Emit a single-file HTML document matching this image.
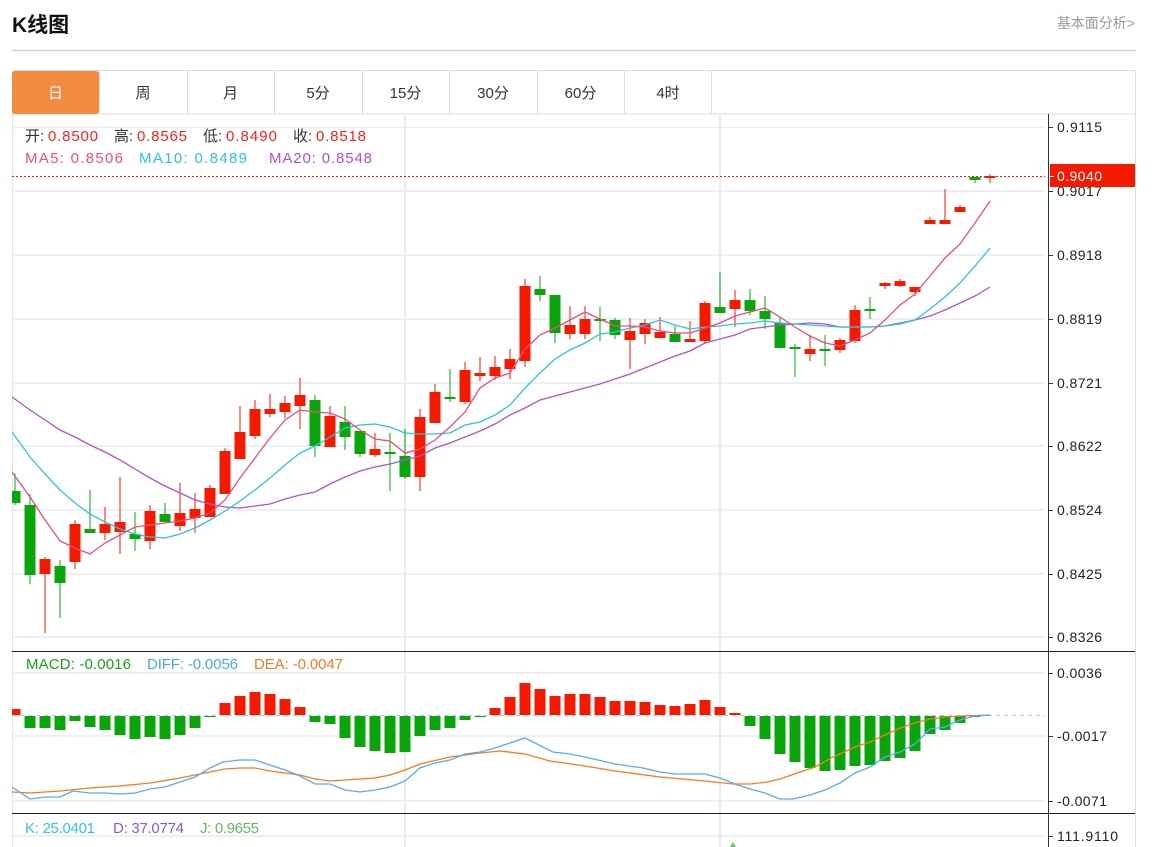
<!DOCTYPE html>
<html><head><meta charset="utf-8"><style>
html,body{margin:0;padding:0;background:#fff;width:1162px;height:847px;overflow:hidden}
svg{display:block}
</style></head><body>
<svg width="1162" height="847" viewBox="0 0 1162 847" xmlns="http://www.w3.org/2000/svg" font-family="'Liberation Sans','Noto Sans CJK SC',sans-serif">
<defs><clipPath id="pc"><rect x="12" y="114" width="1034" height="733"/></clipPath></defs>
<text x="12" y="32" font-size="21" font-weight="bold" fill="#111">K线图</text>
<text x="1135" y="28" text-anchor="end" font-size="14" fill="#999">基本面分析&gt;</text>
<line x1="12" y1="50.5" x2="1136" y2="50.5" stroke="#d2d2d2" stroke-width="1.4"/>
<rect x="12.5" y="70.5" width="1123" height="43.5" fill="#fff" stroke="#dcdcdc"/>
<rect x="12" y="71" width="87" height="43" rx="3" fill="#f18b40"/>
<g stroke="#dcdcdc"><line x1="99.5" y1="70" x2="99.5" y2="114"/><line x1="187.5" y1="70" x2="187.5" y2="114"/><line x1="274.5" y1="70" x2="274.5" y2="114"/><line x1="362.5" y1="70" x2="362.5" y2="114"/><line x1="449.5" y1="70" x2="449.5" y2="114"/><line x1="537.5" y1="70" x2="537.5" y2="114"/><line x1="624.5" y1="70" x2="624.5" y2="114"/><line x1="711.5" y1="70" x2="711.5" y2="114"/></g>
<g font-size="15" text-anchor="middle" fill="#333">
<text x="55.5" y="98" fill="#fff">日</text><text x="143" y="98">周</text><text x="230.5" y="98">月</text><text x="318" y="98">5分</text><text x="405.5" y="98">15分</text><text x="493" y="98">30分</text><text x="580.5" y="98">60分</text><text x="668" y="98">4时</text>
</g>
<line x1="1135.5" y1="70" x2="1135.5" y2="847" stroke="#dcdcdc"/>
<line x1="12.5" y1="114" x2="12.5" y2="847" stroke="#e0e6ea"/>
<g stroke="#e6ecf1" stroke-width="1.6">
<line x1="12" y1="127.5" x2="1045" y2="127.5"/><line x1="12" y1="191" x2="1045" y2="191"/><line x1="12" y1="255" x2="1045" y2="255"/><line x1="12" y1="319" x2="1045" y2="319"/><line x1="12" y1="383" x2="1045" y2="383"/><line x1="12" y1="446" x2="1045" y2="446"/><line x1="12" y1="510" x2="1045" y2="510"/><line x1="12" y1="574" x2="1045" y2="574"/><line x1="12" y1="637" x2="1045" y2="637"/>
<line x1="12" y1="673" x2="1045" y2="673"/><line x1="12" y1="736" x2="1045" y2="736"/><line x1="12" y1="801" x2="1045" y2="801"/><line x1="12" y1="836" x2="1045" y2="836"/>
<line x1="405" y1="114" x2="405" y2="847" stroke-width="2"/><line x1="720" y1="114" x2="720" y2="847" stroke-width="2"/>
</g>
<line x1="12" y1="651.5" x2="1135" y2="651.5" stroke="#222"/>
<line x1="12" y1="813.5" x2="1135" y2="813.5" stroke="#222"/>
<line x1="1048.5" y1="114" x2="1048.5" y2="847" stroke="#333"/>
<g stroke="#333"><line x1="1048" y1="127.5" x2="1053" y2="127.5"/><line x1="1048" y1="191.5" x2="1053" y2="191.5"/><line x1="1048" y1="255.5" x2="1053" y2="255.5"/><line x1="1048" y1="319.5" x2="1053" y2="319.5"/><line x1="1048" y1="383.5" x2="1053" y2="383.5"/><line x1="1048" y1="446.5" x2="1053" y2="446.5"/><line x1="1048" y1="510.5" x2="1053" y2="510.5"/><line x1="1048" y1="574.5" x2="1053" y2="574.5"/><line x1="1048" y1="637.5" x2="1053" y2="637.5"/><line x1="1048" y1="673.5" x2="1053" y2="673.5"/><line x1="1048" y1="736.5" x2="1053" y2="736.5"/><line x1="1048" y1="801.5" x2="1053" y2="801.5"/><line x1="1048" y1="836.5" x2="1053" y2="836.5"/></g>
<g font-size="14" fill="#222">
<text x="1057" y="132" textLength="45">0.9115</text>
<text x="1057" y="196" textLength="45">0.9017</text>
<text x="1057" y="260" textLength="45">0.8918</text>
<text x="1057" y="324" textLength="45">0.8819</text>
<text x="1057" y="388" textLength="45">0.8721</text>
<text x="1057" y="451" textLength="45">0.8622</text>
<text x="1057" y="515" textLength="45">0.8524</text>
<text x="1057" y="579" textLength="45">0.8425</text>
<text x="1057" y="642" textLength="45">0.8326</text>
<text x="1057" y="678" textLength="45">0.0036</text>
<text x="1057" y="741" textLength="50">-0.0017</text>
<text x="1057" y="806" textLength="50">-0.0071</text>
<text x="1057" y="841" textLength="61">111.9110</text>
</g>
<rect x="1050" y="164" width="85" height="23" fill="#f31a00"/>
<line x1="1050" y1="176.5" x2="1054" y2="176.5" stroke="#fff"/>
<text x="1057" y="181" font-size="14" fill="#fff" textLength="45">0.9040</text>
<g font-size="15">
<text x="25" y="141" fill="#333">开:</text><text x="48" y="141" fill="#f5231b" textLength="50">0.8500</text>
<text x="114" y="141" fill="#333">高:</text><text x="137" y="141" fill="#f5231b" textLength="50">0.8565</text>
<text x="203" y="141" fill="#333">低:</text><text x="226" y="141" fill="#f5231b" textLength="51">0.8490</text>
<text x="293" y="141" fill="#333">收:</text><text x="316" y="141" fill="#f5231b" textLength="50">0.8518</text>
<text x="25" y="163" fill="#ec4f86" textLength="98">MA5: 0.8506</text>
<text x="139" y="163" fill="#2fc2dc" textLength="108">MA10: 0.8489</text>
<text x="269" y="163" fill="#b052c6" textLength="103">MA20: 0.8548</text>
<text x="26" y="669" fill="#18a218" textLength="105">MACD: -0.0016</text>
<text x="147" y="669" fill="#4ba6ef" textLength="91">DIFF: -0.0056</text>
<text x="254" y="669" fill="#f57a22" textLength="89">DEA: -0.0047</text>
<text x="25" y="833" fill="#35c3dc" textLength="70">K: 25.0401</text>
<text x="113" y="833" fill="#8c5cc6" textLength="71">D: 37.0774</text>
<text x="200" y="833" fill="#62bb62" textLength="59">J: 0.9655</text>
</g>
<g clip-path="url(#pc)">
<line x1="12" y1="176.5" x2="1045" y2="176.5" stroke="#f31a00" stroke-dasharray="2,2"/>
<line x1="12" y1="715.5" x2="1045" y2="715.5" stroke="#9fd2f0" stroke-dasharray="4,4"/>
<g fill="#f31a00">
<rect x="44.5" y="557" width="1" height="76"/><rect x="39.5" y="559" width="11" height="15"/>
<rect x="74.5" y="520" width="1" height="49"/><rect x="69.5" y="524" width="11" height="38"/>
<rect x="104.5" y="507" width="1" height="33"/><rect x="99.5" y="524" width="11" height="9"/>
<rect x="119.5" y="477" width="1" height="77"/><rect x="114.5" y="522" width="11" height="10"/>
<rect x="149.5" y="505" width="1" height="44"/><rect x="144.5" y="511" width="11" height="30"/>
<rect x="179.5" y="483" width="1" height="48"/><rect x="174.5" y="513" width="11" height="13"/>
<rect x="194.5" y="493" width="1" height="40"/><rect x="189.5" y="509" width="11" height="9"/>
<rect x="209.5" y="485" width="1" height="32"/><rect x="204.5" y="488" width="11" height="29"/>
<rect x="224.5" y="448" width="1" height="46"/><rect x="219.5" y="451" width="11" height="43"/>
<rect x="239.5" y="406" width="1" height="53"/><rect x="234.5" y="432" width="11" height="27"/>
<rect x="254.5" y="400" width="1" height="39"/><rect x="249.5" y="409" width="11" height="27"/>
<rect x="269.5" y="394" width="1" height="23"/><rect x="264.5" y="409" width="11" height="5"/>
<rect x="284.5" y="396" width="1" height="22"/><rect x="279.5" y="403" width="11" height="9"/>
<rect x="299.5" y="378" width="1" height="51"/><rect x="294.5" y="395" width="11" height="11"/>
<rect x="329.5" y="406" width="1" height="41"/><rect x="324.5" y="416" width="11" height="31"/>
<rect x="374.5" y="433" width="1" height="24"/><rect x="369.5" y="449" width="11" height="6"/>
<rect x="419.5" y="409" width="1" height="82"/><rect x="414.5" y="417" width="11" height="60"/>
<rect x="434.5" y="384" width="1" height="39"/><rect x="429.5" y="392" width="11" height="31"/>
<rect x="464.5" y="362" width="1" height="42"/><rect x="459.5" y="370" width="11" height="32"/>
<rect x="479.5" y="357" width="1" height="24"/><rect x="474.5" y="373" width="11" height="3"/>
<rect x="494.5" y="356" width="1" height="24"/><rect x="489.5" y="367" width="11" height="9"/>
<rect x="509.5" y="349" width="1" height="30"/><rect x="504.5" y="359" width="11" height="10"/>
<rect x="524.5" y="279" width="1" height="88"/><rect x="519.5" y="286" width="11" height="75"/>
<rect x="569.5" y="306" width="1" height="33"/><rect x="564.5" y="325" width="11" height="9"/>
<rect x="584.5" y="306" width="1" height="33"/><rect x="579.5" y="319" width="11" height="15"/>
<rect x="629.5" y="318" width="1" height="51"/><rect x="624.5" y="331" width="11" height="9"/>
<rect x="644.5" y="319" width="1" height="25"/><rect x="639.5" y="323" width="11" height="11"/>
<rect x="659.5" y="317" width="1" height="21"/><rect x="654.5" y="332" width="11" height="6"/>
<rect x="689.5" y="321" width="1" height="21"/><rect x="684.5" y="339" width="11" height="3"/>
<rect x="704.5" y="301" width="1" height="43"/><rect x="699.5" y="303" width="11" height="38"/>
<rect x="734.5" y="290" width="1" height="37"/><rect x="729.5" y="300" width="11" height="9"/>
<rect x="809.5" y="335" width="1" height="26"/><rect x="804.5" y="349" width="11" height="5"/>
<rect x="839.5" y="338" width="1" height="15"/><rect x="834.5" y="340" width="11" height="10"/>
<rect x="854.5" y="305" width="1" height="38"/><rect x="849.5" y="310" width="11" height="31"/>
<rect x="884.5" y="282" width="1" height="7"/><rect x="879.5" y="283" width="11" height="3"/>
<rect x="899.5" y="279" width="1" height="8"/><rect x="894.5" y="281" width="11" height="5"/>
<rect x="914.5" y="287" width="1" height="9"/><rect x="909.5" y="287" width="11" height="5"/>
<rect x="929.5" y="217" width="1" height="7"/><rect x="924.5" y="220" width="11" height="4"/>
<rect x="944.5" y="189" width="1" height="35"/><rect x="939.5" y="220" width="11" height="4"/>
<rect x="959.5" y="205" width="1" height="7"/><rect x="954.5" y="207" width="11" height="5"/>
<rect x="989.5" y="174" width="1" height="9"/><rect x="984.5" y="176" width="11" height="2"/>
</g>
<g fill="#0aa50a">
<rect x="14.5" y="474" width="1" height="31"/><rect x="9.5" y="491" width="11" height="12"/>
<rect x="29.5" y="494" width="1" height="90"/><rect x="24.5" y="505" width="11" height="70"/>
<rect x="59.5" y="560" width="1" height="58"/><rect x="54.5" y="566" width="11" height="17"/>
<rect x="89.5" y="490" width="1" height="43"/><rect x="84.5" y="529" width="11" height="4"/>
<rect x="134.5" y="512" width="1" height="39"/><rect x="129.5" y="534" width="11" height="5"/>
<rect x="164.5" y="503" width="1" height="19"/><rect x="159.5" y="514" width="11" height="8"/>
<rect x="314.5" y="395" width="1" height="62"/><rect x="309.5" y="400" width="11" height="46"/>
<rect x="344.5" y="406" width="1" height="44"/><rect x="339.5" y="422" width="11" height="15"/>
<rect x="359.5" y="431" width="1" height="26"/><rect x="354.5" y="431" width="11" height="23"/>
<rect x="389.5" y="433" width="1" height="58"/><rect x="384.5" y="452" width="11" height="2"/>
<rect x="404.5" y="429" width="1" height="50"/><rect x="399.5" y="456" width="11" height="21"/>
<rect x="449.5" y="369" width="1" height="33"/><rect x="444.5" y="397" width="11" height="2"/>
<rect x="539.5" y="276" width="1" height="25"/><rect x="534.5" y="289" width="11" height="6"/>
<rect x="554.5" y="295" width="1" height="48"/><rect x="549.5" y="295" width="11" height="38"/>
<rect x="599.5" y="307" width="1" height="34"/><rect x="594.5" y="319" width="11" height="2"/>
<rect x="614.5" y="318" width="1" height="21"/><rect x="609.5" y="320" width="11" height="15"/>
<rect x="674.5" y="326" width="1" height="16"/><rect x="669.5" y="334" width="11" height="8"/>
<rect x="719.5" y="272" width="1" height="41"/><rect x="714.5" y="307" width="11" height="6"/>
<rect x="749.5" y="289" width="1" height="26"/><rect x="744.5" y="300" width="11" height="11"/>
<rect x="764.5" y="296" width="1" height="33"/><rect x="759.5" y="311" width="11" height="8"/>
<rect x="779.5" y="317" width="1" height="31"/><rect x="774.5" y="323" width="11" height="25"/>
<rect x="794.5" y="344" width="1" height="33"/><rect x="789.5" y="347" width="11" height="2"/>
<rect x="824.5" y="335" width="1" height="31"/><rect x="819.5" y="349" width="11" height="2"/>
<rect x="869.5" y="297" width="1" height="22"/><rect x="864.5" y="309" width="11" height="2"/>
<rect x="974.5" y="177" width="1" height="6"/><rect x="969.5" y="177" width="11" height="3"/>
</g>
<polyline fill="none" stroke="#ad55c8" stroke-width="1.3" points="12,397 30,410 45,420 60,430 75,437 90,445 105,452 120,460 135,469 150,478 165,486 180,493 195,500 210,504 225,507 240,508 255,506 270,504 285,499 300,495 315,492 330,484 345,477 360,471 375,467 390,464 405,460 420,456 435,448 450,443 465,437 480,431 495,424 510,415 525,408 540,400 555,396 570,392 585,388 600,384 615,379 630,374 645,368 660,362 675,356 690,351 705,343 720,339 735,335 750,329 765,327 780,325 795,324 810,323 825,324 840,327 855,327 870,327 885,326 900,323 915,320 930,316 945,310 960,303 975,296 990,287"/>
<polyline fill="none" stroke="#2bc4de" stroke-width="1.3" points="12,432 30,457 45,474 60,490 75,503 90,514 105,522 120,529 135,534 150,537 165,538 180,534 195,528 210,520 225,511 240,501 255,490 270,478 285,465 300,453 315,446 330,437 345,428 360,425 375,424 390,427 405,433 420,434 435,434 450,433 465,425 480,422 495,415 510,405 525,388 540,373 555,359 570,350 585,343 600,334 615,332 630,328 645,325 660,320 675,325 690,329 705,327 720,326 735,324 750,323 765,321 780,323 795,324 810,325 825,326 840,327 855,327 870,327 885,326 900,324 915,320 930,309 945,297 960,283 975,266 990,248"/>
<polyline fill="none" stroke="#ec4b80" stroke-width="1.3" points="12,472 30,497 45,520 60,541 75,548 90,554 105,543 120,535 135,527 150,525 165,523 180,521 195,518 210,513 225,500 240,478 255,458 270,438 285,420 300,410 315,412 330,413 345,419 360,430 375,439 390,441 405,453 420,449 435,440 450,427 465,412 480,388 495,378 510,373 525,349 540,335 555,328 570,320 585,312 600,319 615,326 630,326 645,327 660,331 675,333 690,333 705,328 720,323 735,316 750,312 765,308 780,317 795,327 810,336 825,343 840,346 855,340 870,333 885,320 900,305 915,294 930,276 945,258 960,244 975,223 990,201"/>
<g fill="#f31a00">
<rect x="9.5" y="709" width="11" height="6"/>
<rect x="219.5" y="703" width="11" height="12"/><rect x="234.5" y="696" width="11" height="19"/><rect x="249.5" y="692" width="11" height="23"/><rect x="264.5" y="694" width="11" height="21"/><rect x="279.5" y="699" width="11" height="16"/><rect x="294.5" y="707" width="11" height="8"/>
<rect x="489.5" y="708" width="11" height="7"/><rect x="504.5" y="697" width="11" height="18"/><rect x="519.5" y="683" width="11" height="32"/><rect x="534.5" y="689" width="11" height="26"/><rect x="549.5" y="696" width="11" height="19"/><rect x="564.5" y="694" width="11" height="21"/><rect x="579.5" y="694" width="11" height="21"/><rect x="594.5" y="697" width="11" height="18"/><rect x="609.5" y="701" width="11" height="14"/><rect x="624.5" y="701" width="11" height="14"/><rect x="639.5" y="702" width="11" height="13"/><rect x="654.5" y="705" width="11" height="10"/><rect x="669.5" y="706" width="11" height="9"/><rect x="684.5" y="704" width="11" height="11"/><rect x="699.5" y="700" width="11" height="15"/><rect x="714.5" y="707" width="11" height="8"/><rect x="729.5" y="713" width="11" height="2"/>
</g>
<g fill="#0aa50a">
<rect x="24.5" y="716" width="11" height="12"/><rect x="39.5" y="716" width="11" height="12"/><rect x="54.5" y="716" width="11" height="14"/><rect x="69.5" y="716" width="11" height="5"/><rect x="84.5" y="716" width="11" height="11"/><rect x="99.5" y="716" width="11" height="14"/><rect x="114.5" y="716" width="11" height="19"/><rect x="129.5" y="716" width="11" height="23"/><rect x="144.5" y="716" width="11" height="21"/><rect x="159.5" y="716" width="11" height="23"/><rect x="174.5" y="716" width="11" height="19"/><rect x="189.5" y="716" width="11" height="12"/><rect x="204.5" y="716" width="11" height="1"/>
<rect x="309.5" y="716" width="11" height="6"/><rect x="324.5" y="716" width="11" height="8"/><rect x="339.5" y="716" width="11" height="22"/><rect x="354.5" y="716" width="11" height="31"/><rect x="369.5" y="716" width="11" height="35"/><rect x="384.5" y="716" width="11" height="37"/><rect x="399.5" y="716" width="11" height="36"/><rect x="414.5" y="716" width="11" height="20"/><rect x="429.5" y="716" width="11" height="14"/><rect x="444.5" y="716" width="11" height="12"/><rect x="459.5" y="716" width="11" height="4"/><rect x="474.5" y="716" width="11" height="1"/>
<rect x="744.5" y="716" width="11" height="10"/><rect x="759.5" y="716" width="11" height="23"/><rect x="774.5" y="716" width="11" height="38"/><rect x="789.5" y="716" width="11" height="46"/><rect x="804.5" y="716" width="11" height="52"/><rect x="819.5" y="716" width="11" height="55"/><rect x="834.5" y="716" width="11" height="54"/><rect x="849.5" y="716" width="11" height="50"/><rect x="864.5" y="716" width="11" height="49"/><rect x="879.5" y="716" width="11" height="45"/><rect x="894.5" y="716" width="11" height="42"/><rect x="909.5" y="716" width="11" height="35"/><rect x="924.5" y="716" width="11" height="18"/><rect x="939.5" y="716" width="11" height="14"/><rect x="954.5" y="716" width="11" height="7"/><rect x="969.5" y="716" width="11" height="1"/>
</g>
<polyline fill="none" stroke="#f77a20" stroke-width="1.3" points="12,792 30,793 60,791 90,788 120,786 150,783 180,778 210,772 225,769 240,768 255,768 270,771 300,775 315,779 330,781 345,780 375,778 390,775 405,770 420,764 450,757 480,753 500,751 525,754 550,761 585,766 615,771 660,777 705,781 733,784 750,784 767,782 780,779 800,772 815,767 833,757 855,747 870,742 885,735 900,728 915,723 930,719 945,717 960,716 990,715"/>
<polyline fill="none" stroke="#5aaaf0" stroke-width="1.3" points="12,787 30,799 45,797 60,797 73,791 90,793 105,793 120,794 135,793 150,789 165,787 180,782 195,777 210,768 223,762 240,760 255,760 267,764 285,770 300,776 315,784 330,784 345,790 360,792 375,790 390,787 405,781 420,768 435,763 450,760 465,754 480,752 495,748 510,743 525,738 553,752 570,754 585,757 615,764 643,768 660,772 675,774 705,774 720,778 735,784 750,789 765,793 780,799 793,799 810,795 825,790 840,783 855,773 870,767 885,757 900,752 915,744 930,729 945,727 960,720 975,716 990,715"/>
<path d="M733,842 L730,847 L736,847 Z" fill="#6cc46c"/>
</g>
</svg>
</body></html>
